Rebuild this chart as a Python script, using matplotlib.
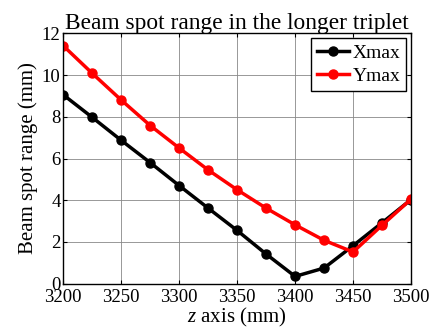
import matplotlib
matplotlib.use("Agg")
import matplotlib.pyplot as plt

z_mm = [3200, 3225, 3250, 3275, 3300, 3325, 3350, 3375, 3400, 3425, 3450, 3475, 3500]
x_max = [9.05, 7.97, 6.87, 5.80, 4.70, 3.62, 2.55, 1.42, 0.35, 0.75, 1.82, 2.92, 4.03]
y_max = [11.40, 10.08, 8.80, 7.58, 6.50, 5.45, 4.50, 3.62, 2.82, 2.08, 1.52, 2.80, 4.05]

x_ticks = [3200, 3250, 3300, 3350, 3400, 3450, 3500]
y_ticks = [0, 2, 4, 6, 8, 10, 12]

plt.rcParams["font.family"] = ["Liberation Serif", "DejaVu Serif"]
plt.rcParams["mathtext.fontset"] = "custom"
plt.rcParams["mathtext.it"] = "Liberation Serif:italic"

fig = plt.figure(figsize=(4.35, 3.36), dpi=100)
ax = fig.add_axes([63.3 / 435, (336 - 283.7) / 336, (411 - 63.3) / 435, (283.7 - 33.3) / 336])

ax.plot(z_mm, x_max, color="black", lw=2.5, marker="o", ms=6.5, label="Xmax")
ax.plot(z_mm, y_max, color="red", lw=2.5, marker="o", ms=6.5, label="Ymax")

ax.set_xlim(3200, 3500)
ax.set_ylim(0, 12)
ax.set_xticks(x_ticks)
ax.set_yticks(y_ticks)
ax.tick_params(direction="in", top=True, right=True, labelsize=13.5, length=3)
ax.tick_params(axis="x", pad=4)
ax.tick_params(axis="y", pad=2)
ax.grid(True, color="#888888", lw=0.6)
for s in ax.spines.values():
    s.set_linewidth(1.0)

ax.set_xlabel(r"$z$ axis (mm)", fontsize=15, labelpad=0)
ax.set_ylabel("Beam spot range (mm)", fontsize=15, labelpad=3)
ax.set_title("Beam spot range in the longer triplet", fontsize=16.8, pad=3)

leg = ax.legend(loc="upper right", fontsize=14, fancybox=False, edgecolor="black",
                framealpha=1, borderaxespad=0.25, handlelength=1.65, borderpad=0.3,
                labelspacing=0.3, handletextpad=0.2)
leg.get_frame().set_linewidth(1.0)

fig.savefig("out.png", dpi=100)
